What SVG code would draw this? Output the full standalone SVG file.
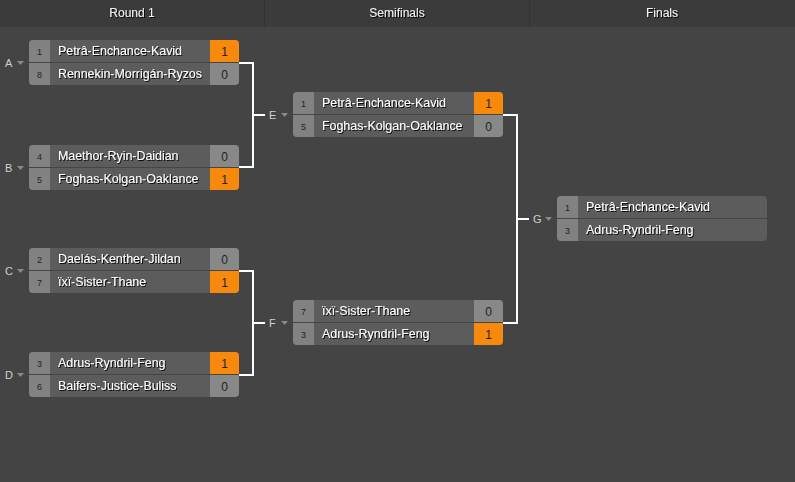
<svg xmlns="http://www.w3.org/2000/svg" width="795" height="482" viewBox="0 0 795 482">
<style>
.hdr{font-family:"Liberation Sans",Arial,sans-serif;font-size:12px;fill:#f2f2f2;text-anchor:middle}
.nm{font-family:"Liberation Sans",Arial,sans-serif;font-size:12.4px;fill:#ffffff}
.sd{font-family:"Liberation Sans",Arial,sans-serif;font-size:9px;fill:#222;text-anchor:middle}
.sc{font-family:"Liberation Sans",Arial,sans-serif;font-size:12px;fill:#222;text-anchor:middle}
.lb{font-family:"Liberation Sans",Arial,sans-serif;font-size:11px;fill:#cfcfcf}
.box{fill:#5c5c5c}
.seed{fill:#828282}
.s0{fill:#888888}
.s1{fill:#f7890c}
.sep{fill:#454545}
.tri{fill:#8a8a8a}
.con{fill:none;stroke:#ffffff;stroke-width:2}
</style>
<defs>
<clipPath id="clipBox"><rect x="0" y="0" width="210" height="45" rx="4"/></clipPath>
<filter id="sh" x="-5%" y="-30%" width="115%" height="170%"><feDropShadow dx="1" dy="1" stdDeviation="0.4" flood-color="#000" flood-opacity="0.85"/></filter>
</defs>
<rect x="0" y="0" width="795" height="482" fill="#444444"/>
<g id="header">
<rect x="0" y="0" width="795" height="27" fill="#3b3b3b"/>
<rect x="264" y="0" width="1" height="27" fill="#333"/>
<rect x="529" y="0" width="1" height="27" fill="#333"/>
<text class="hdr" x="132" y="17" filter="url(#sh)">Round 1</text>
<text class="hdr" x="397" y="17" filter="url(#sh)">Semifinals</text>
<text class="hdr" x="662" y="17" filter="url(#sh)">Finals</text>
</g>
<g id="connectors">
<polyline class="con" points="239,63 253,63 253,167 239,167"/>
<line class="con" x1="253" y1="115" x2="265" y2="115"/>
<polyline class="con" points="239,271 253,271 253,375 239,375"/>
<line class="con" x1="253" y1="323" x2="265" y2="323"/>
<polyline class="con" points="503,115 517,115 517,323 503,323"/>
<line class="con" x1="517" y1="219" x2="529" y2="219"/>
</g>
<g id="matchA" transform="translate(29,40)">
<text class="lb" x="-24" y="27">A</text><path class="tri" d="M-12,21 h7 l-3.5,4 z"/>
<g clip-path="url(#clipBox)">
<rect class="box" x="0" y="0" width="210" height="45"/>
<rect class="seed" x="0" y="0" width="21" height="45"/>
<rect class="s1" x="181" y="0" width="29" height="22"/>
<rect class="s0" x="181" y="23" width="29" height="22"/>
<rect class="sep" x="0" y="22" width="210" height="1"/>
</g>
<text class="sd" x="10.5" y="15">1</text><text class="sd" x="10.5" y="38">8</text>
<text class="nm" x="29" y="15" filter="url(#sh)">Petrâ-Enchance-Kavid</text>
<text class="nm" x="29" y="38" filter="url(#sh)">Rennekin-Morrigán-Ryzos</text>
<text class="sc" x="195.5" y="15.5">1</text><text class="sc" x="195.5" y="38.5">0</text>
</g>
<g id="matchB" transform="translate(29,145)">
<text class="lb" x="-24" y="27">B</text><path class="tri" d="M-12,21 h7 l-3.5,4 z"/>
<g clip-path="url(#clipBox)">
<rect class="box" x="0" y="0" width="210" height="45"/>
<rect class="seed" x="0" y="0" width="21" height="45"/>
<rect class="s0" x="181" y="0" width="29" height="22"/>
<rect class="s1" x="181" y="23" width="29" height="22"/>
<rect class="sep" x="0" y="22" width="210" height="1"/>
</g>
<text class="sd" x="10.5" y="15">4</text><text class="sd" x="10.5" y="38">5</text>
<text class="nm" x="29" y="15" filter="url(#sh)">Maethor-Ryin-Daidian</text>
<text class="nm" x="29" y="38" filter="url(#sh)">Foghas-Kolgan-Oaklance</text>
<text class="sc" x="195.5" y="15.5">0</text><text class="sc" x="195.5" y="38.5">1</text>
</g>
<g id="matchC" transform="translate(29,248)">
<text class="lb" x="-24" y="27">C</text><path class="tri" d="M-12,21 h7 l-3.5,4 z"/>
<g clip-path="url(#clipBox)">
<rect class="box" x="0" y="0" width="210" height="45"/>
<rect class="seed" x="0" y="0" width="21" height="45"/>
<rect class="s0" x="181" y="0" width="29" height="22"/>
<rect class="s1" x="181" y="23" width="29" height="22"/>
<rect class="sep" x="0" y="22" width="210" height="1"/>
</g>
<text class="sd" x="10.5" y="15">2</text><text class="sd" x="10.5" y="38">7</text>
<text class="nm" x="29" y="15" filter="url(#sh)">Daelás-Kenther-Jildan</text>
<text class="nm" x="29" y="38" filter="url(#sh)">ïxï-Sister-Thane</text>
<text class="sc" x="195.5" y="15.5">0</text><text class="sc" x="195.5" y="38.5">1</text>
</g>
<g id="matchD" transform="translate(29,352)">
<text class="lb" x="-24" y="27">D</text><path class="tri" d="M-12,21 h7 l-3.5,4 z"/>
<g clip-path="url(#clipBox)">
<rect class="box" x="0" y="0" width="210" height="45"/>
<rect class="seed" x="0" y="0" width="21" height="45"/>
<rect class="s1" x="181" y="0" width="29" height="22"/>
<rect class="s0" x="181" y="23" width="29" height="22"/>
<rect class="sep" x="0" y="22" width="210" height="1"/>
</g>
<text class="sd" x="10.5" y="15">3</text><text class="sd" x="10.5" y="38">6</text>
<text class="nm" x="29" y="15" filter="url(#sh)">Adrus-Ryndril-Feng</text>
<text class="nm" x="29" y="38" filter="url(#sh)">Baifers-Justice-Buliss</text>
<text class="sc" x="195.5" y="15.5">1</text><text class="sc" x="195.5" y="38.5">0</text>
</g>
<g id="matchE" transform="translate(293,92)">
<text class="lb" x="-24" y="27">E</text><path class="tri" d="M-12,21 h7 l-3.5,4 z"/>
<g clip-path="url(#clipBox)">
<rect class="box" x="0" y="0" width="210" height="45"/>
<rect class="seed" x="0" y="0" width="21" height="45"/>
<rect class="s1" x="181" y="0" width="29" height="22"/>
<rect class="s0" x="181" y="23" width="29" height="22"/>
<rect class="sep" x="0" y="22" width="210" height="1"/>
</g>
<text class="sd" x="10.5" y="15">1</text><text class="sd" x="10.5" y="38">5</text>
<text class="nm" x="29" y="15" filter="url(#sh)">Petrâ-Enchance-Kavid</text>
<text class="nm" x="29" y="38" filter="url(#sh)">Foghas-Kolgan-Oaklance</text>
<text class="sc" x="195.5" y="15.5">1</text><text class="sc" x="195.5" y="38.5">0</text>
</g>
<g id="matchF" transform="translate(293,300)">
<text class="lb" x="-24" y="27">F</text><path class="tri" d="M-12,21 h7 l-3.5,4 z"/>
<g clip-path="url(#clipBox)">
<rect class="box" x="0" y="0" width="210" height="45"/>
<rect class="seed" x="0" y="0" width="21" height="45"/>
<rect class="s0" x="181" y="0" width="29" height="22"/>
<rect class="s1" x="181" y="23" width="29" height="22"/>
<rect class="sep" x="0" y="22" width="210" height="1"/>
</g>
<text class="sd" x="10.5" y="15">7</text><text class="sd" x="10.5" y="38">3</text>
<text class="nm" x="29" y="15" filter="url(#sh)">ïxï-Sister-Thane</text>
<text class="nm" x="29" y="38" filter="url(#sh)">Adrus-Ryndril-Feng</text>
<text class="sc" x="195.5" y="15.5">0</text><text class="sc" x="195.5" y="38.5">1</text>
</g>
<g id="matchG" transform="translate(557,196)">
<text class="lb" x="-24" y="27">G</text><path class="tri" d="M-12,21 h7 l-3.5,4 z"/>
<g clip-path="url(#clipBox)">
<rect class="box" x="0" y="0" width="210" height="45"/>
<rect class="seed" x="0" y="0" width="21" height="45"/>
<rect class="sep" x="0" y="22" width="210" height="1"/>
</g>
<text class="sd" x="10.5" y="15">1</text><text class="sd" x="10.5" y="38">3</text>
<text class="nm" x="29" y="15" filter="url(#sh)">Petrâ-Enchance-Kavid</text>
<text class="nm" x="29" y="38" filter="url(#sh)">Adrus-Ryndril-Feng</text>
</g>
</svg>
